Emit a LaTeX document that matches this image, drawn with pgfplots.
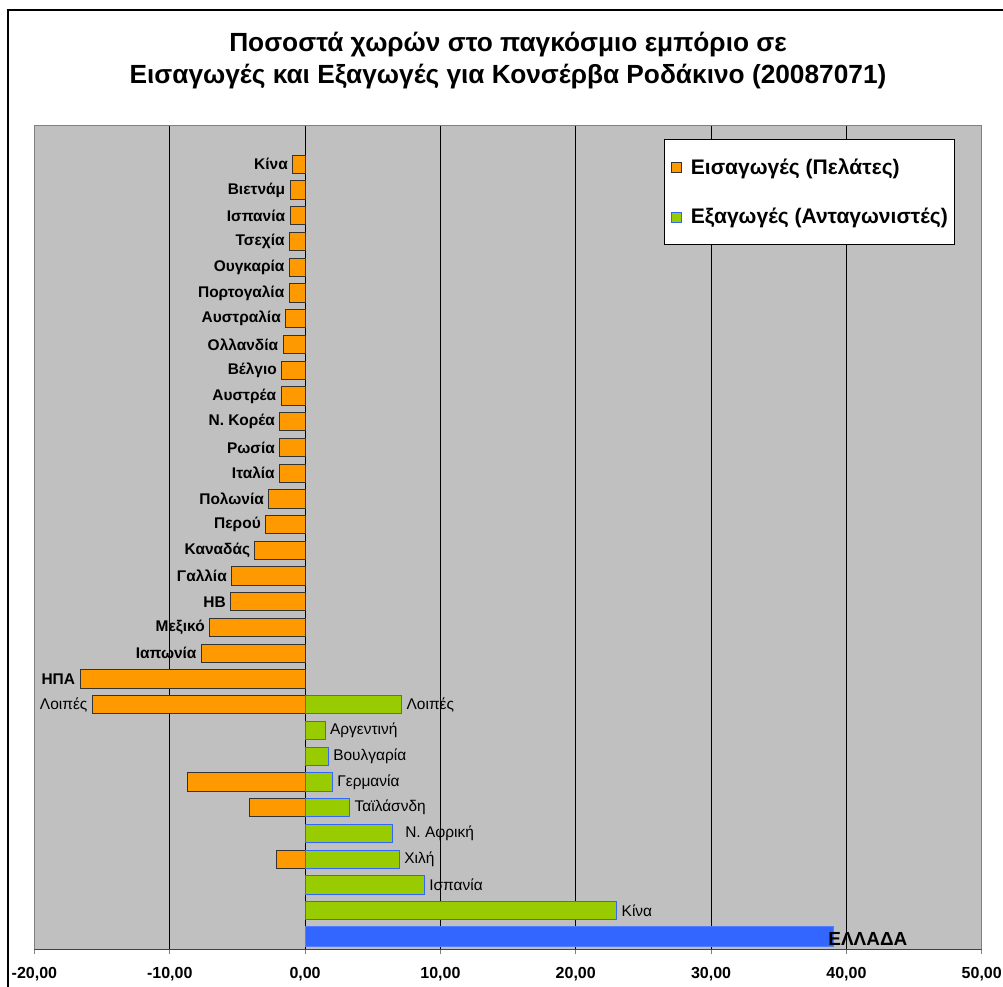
\documentclass[border=0pt]{standalone}
\usepackage{fontspec}
\setmainfont{Liberation Sans}
\usepackage{pgfplots}
\pgfplotsset{compat=1.18}

\definecolor{imp}{HTML}{FF9900}
\definecolor{expo}{HTML}{99CC00}
\definecolor{gr}{HTML}{3366FF}
\definecolor{bg}{HTML}{C0C0C0}

\begin{document}
\begin{tikzpicture}
% page: 1003 x 987 px, 1px = 0.75pt
\useasboundingbox (0pt,0pt) rectangle (752.25pt,740.25pt);
\draw[black, line width=1.5pt] (6pt,-15pt) rectangle (765pt,732.75pt);
\node[align=center, font=\bfseries\fontsize{19.7}{24}\selectfont] at (381pt,694.5pt) {Ποσοστά χωρών στο παγκόσμιο εμπόριο σε\\Εισαγωγές και Εξαγωγές για Κονσέρβα Ροδάκινο (20087071)};

\begin{axis}[
  at={(25.8pt,28.275pt)}, anchor=south west,
  scale only axis,
  width=710.5pt, height=617.7pt,
  xbar, bar shift=0pt, bar width=0.71,
  xmin=-20, xmax=50,
  ymin=-0.5, ymax=31.5,
  xtick={-20,-10,0,10,20,30,40,50},
  ytick=\empty,
  xtick pos=bottom,
  tick align=outside,
  major tick length=3.75pt,
  tick style={draw=gray, line width=0.75pt},
  xmajorgrids,
  grid style={draw=black, line width=0.75pt},
  axis background/.style={fill=bg},
  axis line style={draw=gray, line width=1.1pt},
  xticklabel style={font=\bfseries\fontsize{12}{14}\selectfont, yshift=-6pt},
  /pgf/number format/.cd, fixed, fixed zerofill, precision=2, use comma, 1000 sep={}, assume math mode=true,
  /pgfplots/.cd,
  point meta=explicit symbolic,
  nodes near coords,
  nodes near coords style={font=\fontsize{11.6}{13}\selectfont},
  legend style={draw=black, fill=white, line width=0.75pt,
    at={(axis description cs:0.9718,0.9835)}, anchor=north east,
    font=\bfseries\fontsize{15.8}{18}\selectfont,
    row sep=20pt, inner xsep=3pt, inner ysep=12pt},
  legend cell align=left,
  legend image code/.code={\path[draw=none, fill=none] (0pt,0pt) -- (15pt,0pt);
    \draw[#1, line width=0.75pt] (2.5pt,-3.75pt) rectangle (10pt,3.75pt);},
]
\addplot[fill=imp, draw=black!80, line width=0.75pt,
  nodes near coords style={anchor=east, font=\bfseries\fontsize{11.6}{13}\selectfont}]
coordinates {
(-0.91,30) [Κίνα]
(-1.11,29) [Βιετνάμ]
(-1.11,28) [Ισπανία]
(-1.15,27) [Τσεχία]
(-1.16,26) [Ουγκαρία]
(-1.17,25) [Πορτογαλία]
(-1.43,24) [Αυστραλία]
(-1.63,23) [Ολλανδία]
(-1.72,22) [Βέλγιο]
(-1.77,21) [Αυστρέα]
(-1.87,20) [Ν. Κορέα]
(-1.87,19) [Ρωσία]
(-1.88,18) [Ιταλία]
(-2.68,17) [Πολωνία]
(-2.91,16) [Περού]
(-3.70,15) [Καναδάς]
(-5.42,14) [Γαλλία]
(-5.49,13) [ΗΒ]
(-7.05,12) [Μεξικό]
(-7.66,11) [Ιαπωνία]
(-16.63,10) [ΗΠΑ]
(-15.72,9) [{\mdseries Λοιπές}]
(-8.70,6) [{}]
(-4.07,5) [{}]
(-2.09,3) [{}]
};
\addlegendentry{Εισαγωγές (Πελάτες)}
\addplot[fill=expo, draw=gr, line width=0.75pt,
  nodes near coords style={anchor=west}]
coordinates {
(7.14,9) [Λοιπές]
(1.48,8) [Αργεντινή]
(1.72,7) [Βουλγαρία]
(2.02,6) [Γερμανία]
(3.30,5) [Ταϊλάσνδη]
(6.45,4) [{\kern6pt Ν. Αφρική}]
(6.97,3) [Χιλή]
(8.82,2) [Ισπανία]
(23.03,1) [Κίνα]
};
\addlegendentry{Εξαγωγές (Ανταγωνιστές)}
\addplot[fill=gr, draw=gr!85!white, line width=0.75pt, bar width=0.76, forget plot,
  nodes near coords style={anchor=base west, inner sep=0pt, xshift=-4.2pt, yshift=-6.75pt,
    font=\bfseries\fontsize{14.2}{16}\selectfont}]
coordinates {
(39.05,0) [ΕΛΛΑΔΑ]
};
\draw[black!75, line width=0.75pt] (rel axis cs:0,0) -- (rel axis cs:1,0);
\end{axis}
\end{tikzpicture}
\end{document}
